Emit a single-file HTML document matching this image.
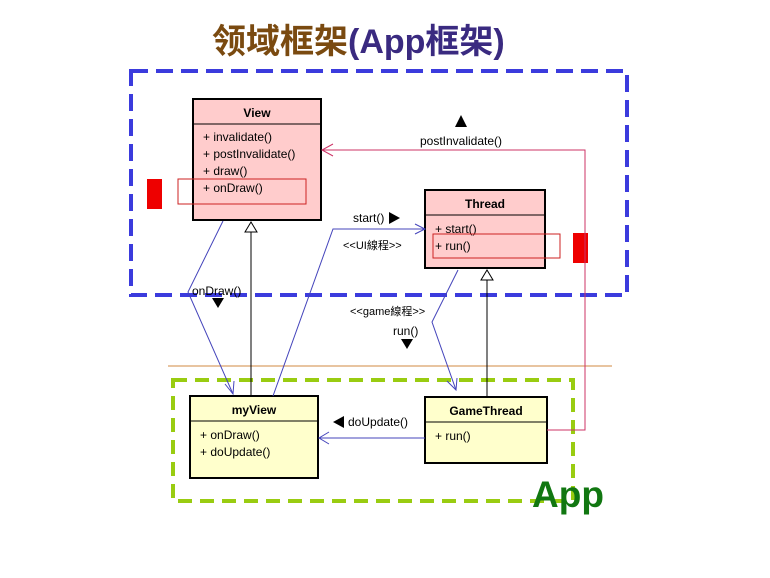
<!DOCTYPE html>
<html><head><meta charset="utf-8"><style>
html,body{margin:0;padding:0;background:#fff;width:770px;height:578px;overflow:hidden}
svg{display:block}
text{font-family:"Liberation Sans","Noto Sans CJK SC",sans-serif;font-size:12px;fill:#000}
</style></head><body>
<svg width="770" height="578" viewBox="0 0 770 578" xmlns="http://www.w3.org/2000/svg">
<text x="212" y="53" style="font-size:34px;font-weight:bold;font-family:'Liberation Sans','Noto Sans CJK SC',sans-serif"><tspan style="fill:#7a4a10">领域框架</tspan><tspan style="fill:#3a2a80">(App框架)</tspan></text>
<rect x="131" y="71" width="496" height="224" fill="none" stroke="#3b3bdd" stroke-width="4" stroke-dasharray="17,8"/>
<line x1="168" y1="366" x2="612" y2="366" stroke="#e0b080" stroke-width="1.5"/>
<rect x="173" y="380" width="400" height="121" fill="none" stroke="#99cc11" stroke-width="4" stroke-dasharray="14,8"/>
<!-- View -->
<rect x="193" y="99" width="128" height="121" fill="#ffcccc" stroke="#000" stroke-width="2"/>
<line x1="193" y1="124" x2="321" y2="124" stroke="#000"/>
<text x="257" y="117" text-anchor="middle" font-weight="bold">View</text>
<text x="203" y="141">+ invalidate()</text>
<text x="203" y="158">+ postInvalidate()</text>
<text x="203" y="175">+ draw()</text>
<text x="203" y="192">+ onDraw()</text>
<rect x="178" y="179" width="128" height="25" fill="none" stroke="#cc2222"/>
<rect x="147" y="179" width="15" height="30" fill="#ee0000"/>
<!-- Thread -->
<rect x="425" y="190" width="120" height="78" fill="#ffcccc" stroke="#000" stroke-width="2"/>
<line x1="425" y1="215" x2="545" y2="215" stroke="#000"/>
<text x="485" y="208" text-anchor="middle" font-weight="bold">Thread</text>
<text x="435" y="233">+ start()</text>
<text x="435" y="250">+ run()</text>
<rect x="433" y="234" width="127" height="24" fill="none" stroke="#cc2222"/>
<rect x="573" y="233" width="15" height="30" fill="#ee0000"/>
<!-- myView -->
<rect x="190" y="396" width="128" height="82" fill="#ffffcc" stroke="#000" stroke-width="2"/>
<line x1="190" y1="421" x2="318" y2="421" stroke="#000"/>
<text x="254" y="414" text-anchor="middle" font-weight="bold">myView</text>
<text x="200" y="439">+ onDraw()</text>
<text x="200" y="456">+ doUpdate()</text>
<!-- GameThread -->
<rect x="425" y="397" width="122" height="66" fill="#ffffcc" stroke="#000" stroke-width="2"/>
<line x1="425" y1="422" x2="547" y2="422" stroke="#000"/>
<text x="486" y="415" text-anchor="middle" font-weight="bold">GameThread</text>
<text x="435" y="440">+ run()</text>
<!-- inheritance -->
<line x1="251" y1="232" x2="251" y2="396" stroke="#000"/>
<polygon points="251,222 245,232 257,232" fill="#fff" stroke="#000"/>
<line x1="487" y1="280" x2="487" y2="397" stroke="#000"/>
<polygon points="487,270 481,280 493,280" fill="#fff" stroke="#000"/>
<!-- postInvalidate -->
<polyline points="547,430 585,430 585,150 322,150" fill="none" stroke="#cc3366"/>
<polyline points="333,144 322,150 333,156" fill="none" stroke="#cc3366"/>
<polygon points="461,115 455,127 467,127" fill="#000"/>
<text x="461" y="145" text-anchor="middle">postInvalidate()</text>
<!-- blue lines -->
<g stroke="#4444bb" fill="none">
<polyline points="223,221 188,292 233,394"/>
<polyline points="225,384 233,394 234,381"/>
<polyline points="273,396 333,229 425,229"/>
<polyline points="415,224 425,229 415,234"/>
<polyline points="458,270 432,322 456,390"/>
<polyline points="447,381 456,390 457,378"/>
<line x1="425" y1="438" x2="319" y2="438"/>
<polyline points="329,432 319,438 329,444"/>
</g>
<text x="353" y="222">start()</text>
<polygon points="389,212 400,218 389,224" fill="#000"/>
<text x="343" y="249" style="font-size:11px">&lt;&lt;UI線程&gt;&gt;</text>
<text x="192" y="295">onDraw()</text>
<polygon points="212,298 224,298 218,308" fill="#000"/>
<text x="350" y="315" style="font-size:11px">&lt;&lt;game線程&gt;&gt;</text>
<text x="393" y="335">run()</text>
<polygon points="401,339 413,339 407,349" fill="#000"/>
<polygon points="344,416 344,428 333,422" fill="#000"/>
<text x="348" y="426">doUpdate()</text>
<text x="532" y="507" style="font-size:37px;font-weight:bold;fill:#117711">App</text>
</svg>
</body></html>
